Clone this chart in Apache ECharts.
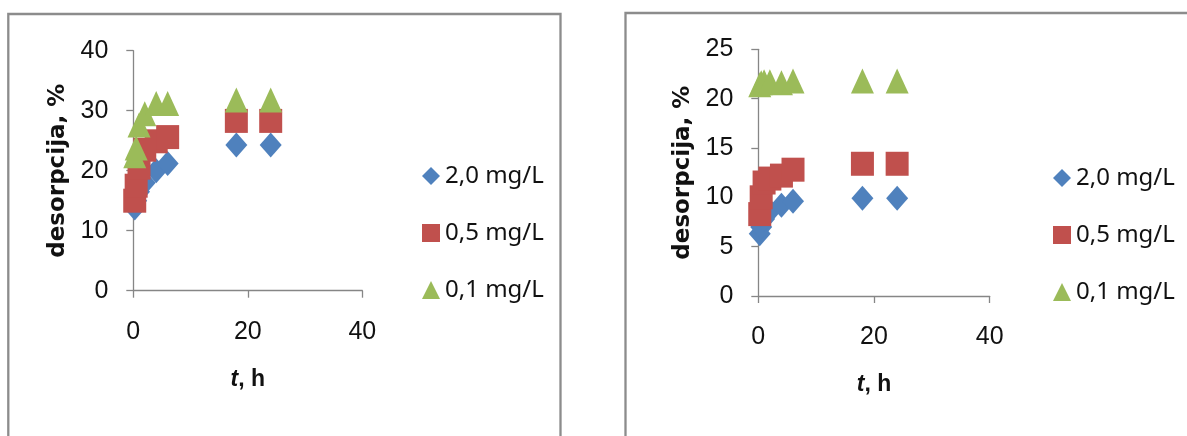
<!DOCTYPE html>
<html>
<head>
<meta charset="utf-8">
<script src="https://cdn.jsdelivr.net/npm/echarts@6/dist/echarts.min.js"></script>
<style>
html,body{margin:0;padding:0;background:#fff;}
#chart{width:1187px;height:436px;}
</style>
</head>
<body>
<div id="chart"></div>
<script>
// ---- data ----
const seriesNames = ['2,0 mg/L', '0,5 mg/L', '0,1 mg/L'];
const timeH = [0.25, 0.5, 1, 2, 4, 6, 18, 24];

// left panel
const leftBlue  = [13.8, 15.0, 16.5, 18.0, 20.0, 21.2, 24.3, 24.3];
const leftRed   = [15.0, 17.5, 20.5, 23.5, 24.9, 25.6, 28.3, 28.3];
const leftGreen = [22.5, 23.8, 27.6, 29.5, 31.2, 31.2, 31.8, 31.8];

// right panel
const rightBlue  = [6.3, 7.0, 7.8, 8.6, 9.2, 9.6, 9.9, 9.9];
const rightRed   = [8.3, 10.0, 11.5, 11.9, 12.2, 12.8, 13.4, 13.4];
const rightGreen = [21.4, 21.6, 21.7, 21.7, 21.6, 21.8, 21.8, 21.8];

const xTicks = [0, 20, 40];
const leftYMax = 40, leftYStep = 10;
const rightYMax = 25, rightYStep = 5;

// ---- styling ----
const colors = ['#4F81BD', '#C0504D', '#9BBB59'];
const symbols = ['diamond', 'rect', 'triangle'];
const symbolSizes = [[22, 25], [23, 24], [23, 25]];
const axisGray = '#868686';
const tickFont = "'Liberation Sans Narrow', 'Liberation Sans', Arial, sans-serif";

function pair(t, v) { return t.map((x, i) => [x, v[i]]); }

function xAxisFor(gridIndex) {
  return {
    type: 'value', gridIndex, min: xTicks[0], max: xTicks[xTicks.length - 1], interval: xTicks[1] - xTicks[0],
    splitLine: { show: false },
    axisLine: { show: true, lineStyle: { color: axisGray, width: 1.3 } },
    axisTick: { show: true, length: 7, lineStyle: { color: axisGray, width: 1.3 } },
    axisLabel: { color: '#111', fontSize: 25, fontFamily: tickFont, margin: 29 },
    name: '{i|t}{b|, h}', nameLocation: 'middle', nameGap: 77,
    nameTextStyle: {
      rich: {
        i: { fontFamily: tickFont, fontSize: 23, fontWeight: 'bold', fontStyle: 'italic', color: '#111' },
        b: { fontFamily: tickFont, fontSize: 23, fontWeight: 'bold', color: '#111' }
      }
    }
  };
}
function yAxisFor(gridIndex, max, step) {
  return {
    type: 'value', gridIndex, min: 0, max, interval: step,
    splitLine: { show: false },
    axisLine: { show: true, lineStyle: { color: axisGray, width: 1.3 } },
    axisTick: { show: true, length: 7, lineStyle: { color: axisGray, width: 1.3 } },
    axisLabel: { color: '#111', fontSize: 25, fontFamily: tickFont, margin: 25 },
    name: 'desorpcija, %', nameLocation: 'middle', nameGap: 64, nameRotate: 90,
    nameTextStyle: { fontFamily: "'DejaVu Sans', sans-serif", fontWeight: 'bold', fontSize: 23, color: '#111' }
  };
}
function sc(nameIdx, axisIdx, values) {
  return {
    type: 'scatter', name: seriesNames[nameIdx],
    xAxisIndex: axisIdx, yAxisIndex: axisIdx,
    data: pair(timeH, values),
    symbol: symbols[nameIdx], symbolSize: symbolSizes[nameIdx],
    itemStyle: { color: colors[nameIdx], opacity: 1 },
    emphasis: { disabled: true }
  };
}
function legendAt(left, top) {
  return {
    orient: 'vertical', left, top,
    itemWidth: 18, itemHeight: 18, itemGap: 31, itemTextGap: 4,
    selectedMode: false,
    textStyle: { fontFamily: "'Noto Sans', sans-serif", fontSize: 24, color: '#111', lineHeight: 26 },
    data: seriesNames
  };
}

const chart = echarts.init(document.getElementById('chart'), null, { renderer: 'canvas' });
chart.setOption({
  animation: false,
  backgroundColor: '#fff',
  color: colors,
  graphic: [
    { type: 'rect', shape: { x: 8.3, y: 14, width: 552.2, height: 450 }, style: { fill: 'none', stroke: '#8c8c8c', lineWidth: 2.3 }, silent: true },
    { type: 'rect', shape: { x: 625.5, y: 13, width: 600, height: 450 }, style: { fill: 'none', stroke: '#8c8c8c', lineWidth: 2.3 }, silent: true }
  ],
  grid: [
    { left: 133.3, top: 50.7, width: 229, height: 240 },
    { left: 758.3, top: 49.3, width: 231.4, height: 246.7 }
  ],
  xAxis: [xAxisFor(0), xAxisFor(1)],
  yAxis: [yAxisFor(0, leftYMax, leftYStep), yAxisFor(1, rightYMax, rightYStep)],
  legend: [legendAt(417, 158), legendAt(1048, 160)],
  series: [
    sc(0, 0, leftBlue), sc(1, 0, leftRed), sc(2, 0, leftGreen),
    sc(0, 1, rightBlue), sc(1, 1, rightRed), sc(2, 1, rightGreen)
  ]
});
</script>
</body>
</html>
